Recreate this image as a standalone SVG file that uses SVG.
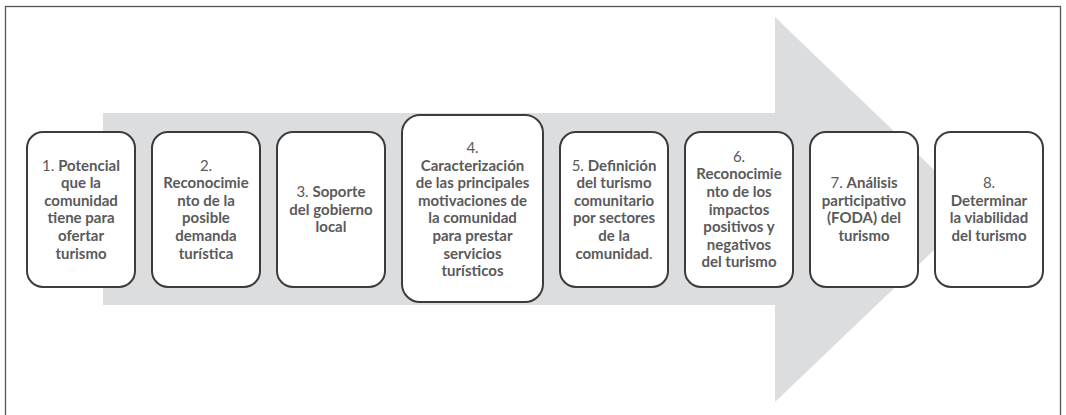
<svg xmlns="http://www.w3.org/2000/svg" width="1066" height="415" viewBox="0 0 1066 415">
<style>
.box{fill:#ffffff;stroke:#3c3c3c;stroke-width:2}
.t{font-family:Lato,"Open Sans","Liberation Sans",sans-serif;font-size:15px;fill:#5a5a5a;text-anchor:middle;font-weight:bold}
.r{font-weight:normal}
</style>
<rect x="0" y="0" width="1066" height="415" fill="#ffffff"/>
<rect x="5.5" y="6.5" width="1055" height="430" fill="none" stroke="#555555" stroke-width="1.3"/>
<g id="connectors">
<polygon points="103,113 775,113 775,17 976,210 775,402 775,305 103,305" fill="#dcdddf"/>
</g>
<g id="n1">
<rect class="box" x="27" y="132" width="108" height="155" rx="16"/>
<text class="t"><tspan x="81" y="170.5"><tspan class="r">1. </tspan>Potencial</tspan><tspan x="81" y="188.1">que la</tspan><tspan x="81" y="205.7">comunidad</tspan><tspan x="81" y="223.3">tiene para</tspan><tspan x="81" y="240.9">ofertar</tspan><tspan x="81" y="258.5">turismo</tspan></text>
</g>
<g id="n2">
<rect class="box" x="152" y="132" width="108" height="155" rx="16"/>
<text class="t"><tspan x="206" y="170.5" class="r">2.</tspan><tspan x="206" y="188.1">Reconocimie</tspan><tspan x="206" y="205.7">nto de la</tspan><tspan x="206" y="223.3">posible</tspan><tspan x="206" y="240.9">demanda</tspan><tspan x="206" y="258.5">turística</tspan></text>
</g>
<g id="n3">
<rect class="box" x="277" y="132" width="108" height="155" rx="16"/>
<text class="t"><tspan x="331" y="196.9"><tspan class="r">3. </tspan>Soporte</tspan><tspan x="331" y="214.5">del gobierno</tspan><tspan x="331" y="232.1">local</tspan></text>
</g>
<g id="n4">
<rect class="box" x="402" y="115" width="141" height="187" rx="18"/>
<text class="t"><tspan x="472.5" y="152.9" class="r">4.</tspan><tspan x="472.5" y="170.5">Caracterización</tspan><tspan x="472.5" y="188.1">de las principales</tspan><tspan x="472.5" y="205.7">motivaciones de</tspan><tspan x="472.5" y="223.3">la comunidad</tspan><tspan x="472.5" y="240.9">para prestar</tspan><tspan x="472.5" y="258.5">servicios</tspan><tspan x="472.5" y="276.1">turísticos</tspan></text>
</g>
<g id="n5">
<rect class="box" x="560" y="132" width="108" height="155" rx="16"/>
<text class="t"><tspan x="614" y="170.5"><tspan class="r">5. </tspan>Definición</tspan><tspan x="614" y="188.1">del turismo</tspan><tspan x="614" y="205.7">comunitario</tspan><tspan x="614" y="223.3">por sectores</tspan><tspan x="614" y="240.9">de la</tspan><tspan x="614" y="258.5">comunidad<tspan class="r">.</tspan></tspan></text>
</g>
<g id="n6">
<rect class="box" x="685" y="132" width="108" height="155" rx="16"/>
<text class="t"><tspan x="739" y="161.7" class="r">6.</tspan><tspan x="739" y="179.3">Reconocimie</tspan><tspan x="739" y="196.9">nto de los</tspan><tspan x="739" y="214.5">impactos</tspan><tspan x="739" y="232.1">positivos y</tspan><tspan x="739" y="249.7">negativos</tspan><tspan x="739" y="267.3">del turismo</tspan></text>
</g>
<g id="n7">
<rect class="box" x="810" y="132" width="108" height="155" rx="16"/>
<text class="t"><tspan x="864" y="188.1"><tspan class="r">7. </tspan>Análisis</tspan><tspan x="864" y="205.7">participativo</tspan><tspan x="864" y="223.3">(FODA) del</tspan><tspan x="864" y="240.9">turismo</tspan></text>
</g>
<g id="n8">
<rect class="box" x="935" y="132" width="108" height="155" rx="16"/>
<text class="t"><tspan x="989" y="188.1" class="r">8.</tspan><tspan x="989" y="205.7">Determinar</tspan><tspan x="989" y="223.3">la viabilidad</tspan><tspan x="989" y="240.9">del turismo</tspan></text>
</g>
</svg>
